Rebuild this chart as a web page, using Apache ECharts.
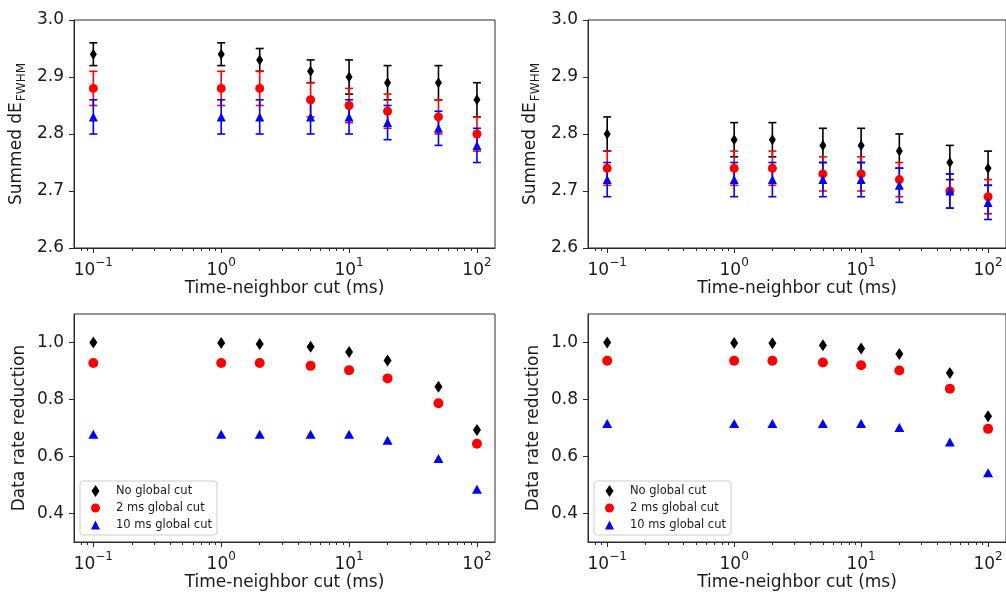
<!DOCTYPE html>
<html>
<head>
<meta charset="utf-8">
<script src="https://cdn.jsdelivr.net/npm/echarts@6/dist/echarts.min.js"></script>
<style>
html,body{margin:0;padding:0;background:#fff;}
#chart{width:1006px;height:592px;}
</style>
</head>
<body>
<div id="chart"></div>
<script>
// ---------- data ----------
const cutValues = [0.1, 1, 2, 5, 10, 20, 50, 100];
const seriesNames = ['No global cut', '2 ms global cut', '10 ms global cut'];

// Top-left: Summed dE_FWHM
const fwhmLeftNoCut   = [2.94, 2.94, 2.93, 2.91, 2.90, 2.89, 2.89, 2.86];
const fwhmLeftNoCutErr= [0.02, 0.02, 0.02, 0.02, 0.03, 0.03, 0.03, 0.03];
const fwhmLeft2ms     = [2.88, 2.88, 2.88, 2.86, 2.85, 2.84, 2.83, 2.80];
const fwhmLeft2msErr  = [0.03, 0.03, 0.03, 0.03, 0.03, 0.03, 0.03, 0.03];
const fwhmLeft10ms    = [2.83, 2.83, 2.83, 2.83, 2.83, 2.82, 2.81, 2.78];
const fwhmLeft10msErr = [0.03, 0.03, 0.03, 0.03, 0.03, 0.03, 0.03, 0.03];

// Top-right: Summed dE_FWHM
const fwhmRightNoCut   = [2.80, 2.79, 2.79, 2.78, 2.78, 2.77, 2.75, 2.74];
const fwhmRightNoCutErr= [0.03, 0.03, 0.03, 0.03, 0.03, 0.03, 0.03, 0.03];
const fwhmRight2ms     = [2.74, 2.74, 2.74, 2.73, 2.73, 2.72, 2.70, 2.69];
const fwhmRight2msErr  = [0.03, 0.03, 0.03, 0.03, 0.03, 0.03, 0.03, 0.03];
const fwhmRight10ms    = [2.72, 2.72, 2.72, 2.72, 2.72, 2.71, 2.70, 2.68];
const fwhmRight10msErr = [0.03, 0.03, 0.03, 0.03, 0.03, 0.03, 0.03, 0.03];

// Bottom-left: Data rate reduction
const rateLeftNoCut = [1.000, 0.998, 0.995, 0.985, 0.967, 0.937, 0.845, 0.693];
const rateLeft2ms   = [0.928, 0.928, 0.928, 0.918, 0.903, 0.874, 0.787, 0.645];
const rateLeft10ms  = [0.678, 0.678, 0.678, 0.678, 0.678, 0.657, 0.593, 0.485];

// Bottom-right: Data rate reduction
const rateRightNoCut = [1.000, 0.998, 0.997, 0.990, 0.979, 0.960, 0.893, 0.741];
const rateRight2ms   = [0.936, 0.936, 0.936, 0.930, 0.920, 0.902, 0.838, 0.697];
const rateRight10ms  = [0.716, 0.716, 0.716, 0.716, 0.716, 0.702, 0.651, 0.543];

const xMajorTicks = [0.1, 1, 10, 100];
const xMinorTicks = [0.08, 0.09, 0.2, 0.3, 0.4, 0.5, 0.6, 0.7, 0.8, 0.9,
                     2, 3, 4, 5, 6, 7, 8, 9, 20, 30, 40, 50, 60, 70, 80, 90];
const fwhmTicks = [2.6, 2.7, 2.8, 2.9, 3.0];
const rateTicks = [0.4, 0.6, 0.8, 1.0];

// ---------- styling ----------
const FONT = 'DejaVu Sans';
const TXT = '#1a1a1a';
const AX = '#2a2a2a';
const colors = ['#000000', '#ff0000', '#0000ff'];
const X_MIN = 0.0706, X_MAX = 138.4;

const grids = [
  {left: 74, top: 20, width: 421, height: 228},
  {left: 588, top: 20, width: 419, height: 228},
  {left: 74, top: 314, width: 421, height: 228},
  {left: 588, top: 314, width: 419, height: 228}
];

function xAxesFor(gi) {
  return [{
    type: 'log', gridIndex: gi, min: X_MIN, max: X_MAX, position: 'bottom',
    name: 'Time-neighbor cut (ms)', nameLocation: 'middle', nameGap: 32,
    nameTextStyle: {fontFamily: FONT, fontSize: 17, color: TXT},
    axisLine: {show: true, lineStyle: {color: AX, width: 1}},
    axisTick: {show: true, length: 5, lineStyle: {color: AX}, customValues: xMajorTicks},
    axisLabel: {
      show: true, margin: 9, customValues: xMajorTicks,
      formatter: function (v) {
        const e = Math.round(Math.log10(v));
        return '{b|10}{s|' + (e < 0 ? '\u2212' : '') + Math.abs(e) + '}';
      },
      rich: {
        b: {fontFamily: FONT, fontSize: 17, color: TXT, verticalAlign: 'bottom', lineHeight: 22},
        s: {fontFamily: FONT, fontSize: 12, color: TXT, verticalAlign: 'top', lineHeight: 22}
      }
    },
    splitLine: {show: false}
  }, {
    type: 'log', gridIndex: gi, min: X_MIN, max: X_MAX, position: 'bottom', offset: 0,
    axisLine: {show: false},
    axisTick: {show: true, length: 3, lineStyle: {color: AX}, customValues: xMinorTicks},
    axisLabel: {show: false},
    splitLine: {show: false}
  }];
}

function yAxisFor(gi, kind) {
  const isF = kind === 'fwhm';
  return {
    type: 'value', gridIndex: gi,
    min: isF ? 2.6 : 0.3, max: isF ? 3.0 : 1.1,
    name: isF ? '{a|Summed dE}{b|FWHM}' : 'Data rate reduction',
    nameLocation: 'middle', nameGap: 46, nameRotate: 90,
    nameTextStyle: {
      fontFamily: FONT, fontSize: 17, color: TXT,
      rich: {
        a: {fontFamily: FONT, fontSize: 17, color: TXT, lineHeight: 22, verticalAlign: 'middle'},
        b: {fontFamily: FONT, fontSize: 12, color: TXT, lineHeight: 22, verticalAlign: 'bottom', padding: [0, 0, 0, 1]}
      }
    },
    axisLine: {show: true, lineStyle: {color: AX, width: 1}},
    axisTick: {show: true, length: 5, lineStyle: {color: AX}, customValues: isF ? fwhmTicks : rateTicks},
    axisLabel: {
      show: true, margin: 10, fontFamily: FONT, fontSize: 17, color: TXT,
      customValues: isF ? fwhmTicks : rateTicks,
      formatter: function (v) { return v.toFixed(1); }
    },
    splitLine: {show: false}
  };
}

const symbols = [
  {symbol: 'diamond', size: [7, 11]},
  {symbol: 'circle', size: 9},
  {symbol: 'triangle', size: [9, 9]}
];
const symbolsRate = [
  {symbol: 'diamond', size: [8, 12]},
  {symbol: 'circle', size: 10},
  {symbol: 'triangle', size: [10, 9]}
];

function errSeries(gi, vals, errs, color) {
  const data = cutValues.map((x, i) => [x, vals[i] - errs[i], vals[i] + errs[i]]);
  return {
    type: 'custom', name: 'err' + gi + color, xAxisIndex: gi * 2, yAxisIndex: gi,
    data: data, silent: true,
    encode: {x: 0, y: [1, 2]},
    renderItem: function (params, api) {
      const x = api.value(0);
      const lo = api.coord([x, api.value(1)]);
      const hi = api.coord([x, api.value(2)]);
      const hw = 4;
      const st = {stroke: color, lineWidth: 1.6};
      return {
        type: 'group',
        children: [
          {type: 'line', shape: {x1: lo[0], y1: lo[1], x2: hi[0], y2: hi[1]}, style: st},
          {type: 'line', shape: {x1: lo[0] - hw, y1: lo[1], x2: lo[0] + hw, y2: lo[1]}, style: st},
          {type: 'line', shape: {x1: hi[0] - hw, y1: hi[1], x2: hi[0] + hw, y2: hi[1]}, style: st}
        ]
      };
    }
  };
}

function scatterSeries(gi, idx, vals, symSet) {
  return {
    type: 'scatter', name: seriesNames[idx], xAxisIndex: gi * 2, yAxisIndex: gi,
    data: cutValues.map((x, i) => [x, vals[i]]),
    symbol: symSet[idx].symbol, symbolSize: symSet[idx].size,
    itemStyle: {color: colors[idx], opacity: 1},
    emphasis: {disabled: true},
    silent: true
  };
}

const series = [];
// top-left
[[fwhmLeftNoCut, fwhmLeftNoCutErr], [fwhmLeft2ms, fwhmLeft2msErr], [fwhmLeft10ms, fwhmLeft10msErr]].forEach((p, k) => {
  series.push(errSeries(0, p[0], p[1], colors[k]));
  series.push(scatterSeries(0, k, p[0], symbols));
});
// top-right
[[fwhmRightNoCut, fwhmRightNoCutErr], [fwhmRight2ms, fwhmRight2msErr], [fwhmRight10ms, fwhmRight10msErr]].forEach((p, k) => {
  series.push(errSeries(1, p[0], p[1], colors[k]));
  series.push(scatterSeries(1, k, p[0], symbols));
});
// bottom-left
[rateLeftNoCut, rateLeft2ms, rateLeft10ms].forEach((v, k) => series.push(scatterSeries(2, k, v, symbolsRate)));
// bottom-right
[rateRightNoCut, rateRight2ms, rateRight10ms].forEach((v, k) => series.push(scatterSeries(3, k, v, symbolsRate)));

function legendAt(left) {
  return {
    left: left, top: 481, orient: 'vertical',
    backgroundColor: 'rgba(255,255,255,0.8)', borderColor: '#cccccc', borderWidth: 1, borderRadius: 3,
    padding: [4, 5, 4, 11],
    itemWidth: 9, itemHeight: 12, itemGap: 5,
    selectedMode: false,
    textStyle: {fontFamily: FONT, fontSize: 11.5, color: TXT, padding: [0, 0, 0, 11]},
    data: [
      {name: seriesNames[0], icon: 'path://M4,0 L8,6 L4,12 L0,6 Z', itemStyle: {color: colors[0]}},
      {name: seriesNames[1], icon: 'circle', itemStyle: {color: colors[1]}},
      {name: seriesNames[2], icon: 'path://M4.5,0 L9,9 L0,9 Z', itemStyle: {color: colors[2]}}
    ]
  };
}

const option = {
  animation: false,
  backgroundColor: '#ffffff',
  textStyle: {fontFamily: FONT},
  grid: grids.map(g => Object.assign({show: true, borderColor: AX, borderWidth: 1, backgroundColor: 'transparent'}, g)),
  xAxis: [].concat(xAxesFor(0), xAxesFor(1), xAxesFor(2), xAxesFor(3)),
  yAxis: [yAxisFor(0, 'fwhm'), yAxisFor(1, 'fwhm'), yAxisFor(2, 'rate'), yAxisFor(3, 'rate')],
  legend: [legendAt(80), legendAt(594)],
  series: series
};

const chart = echarts.init(document.getElementById('chart'), null, {renderer: 'canvas'});
chart.setOption(option);
</script>
</body>
</html>
